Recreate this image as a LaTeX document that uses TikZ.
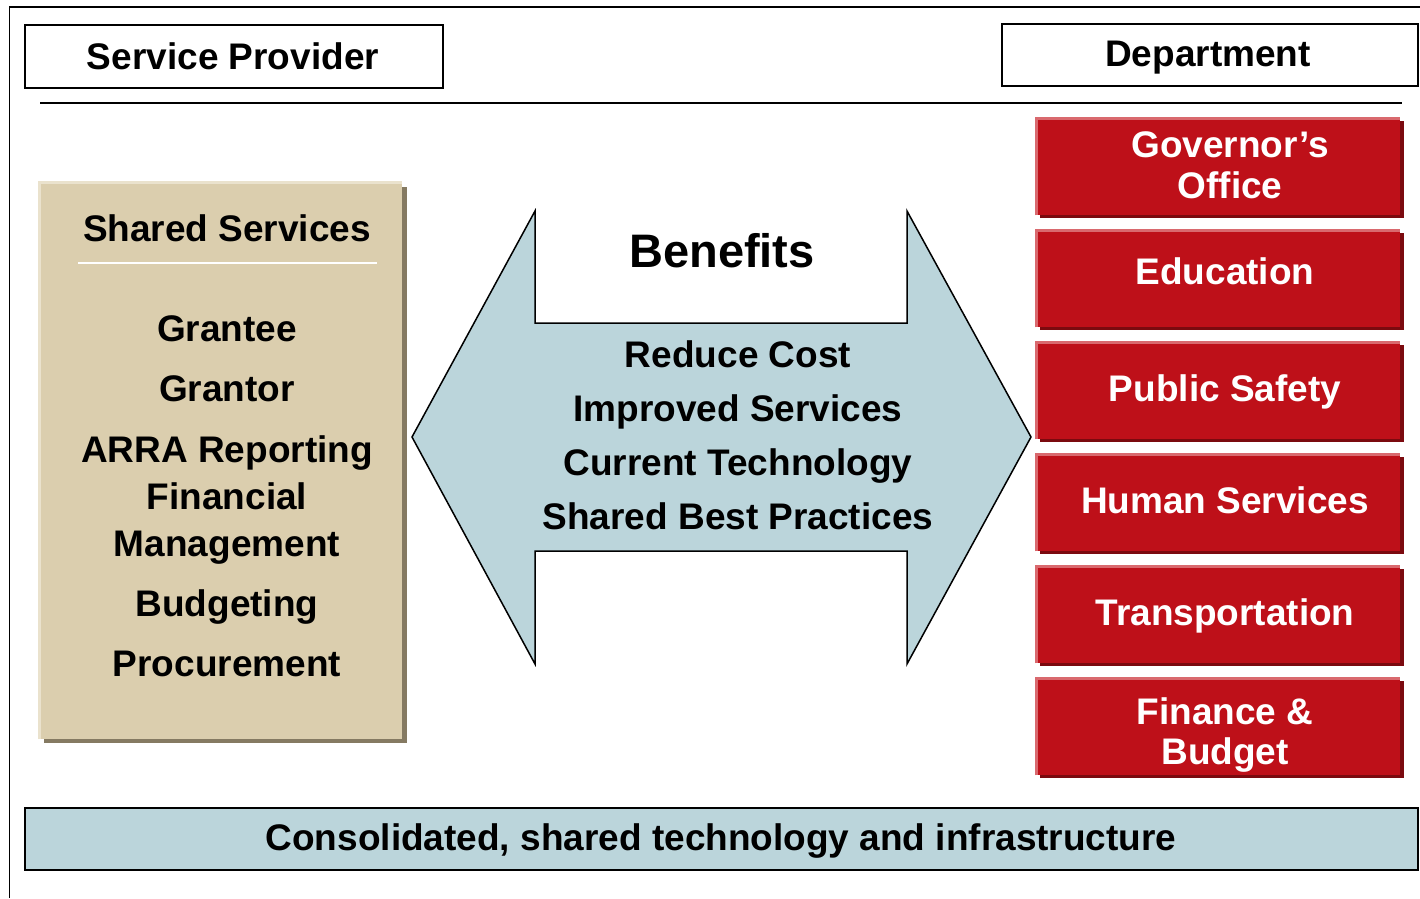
\documentclass[tikz,border=0pt]{standalone}
\usepackage{fontspec}
\setmainfont{Liberation Sans}
\definecolor{redface}{HTML}{BE1019}
\definecolor{redshadow}{HTML}{7B0A0F}
\definecolor{redhi}{HTML}{D9696E}
\definecolor{khaki}{HTML}{DBCEAE}
\definecolor{khakishadow}{HTML}{857A62}
\definecolor{khakihi}{HTML}{EAE2CD}
\definecolor{paleblue}{HTML}{BBD5DB}
\tikzset{
  hdr/.style={draw=black, line width=2pt, fill=white, anchor=north west, inner sep=0pt},
  lbl/.style={font=\fontsize{37}{44}\selectfont\bfseries, anchor=base, inner sep=0pt},
  wlbl/.style={lbl, text=white},
  bigl/.style={font=\fontsize{47}{54}\selectfont\bfseries, anchor=base, inner sep=0pt},
  redbox/.style={fill=redface, minimum width=365pt, minimum height=98pt, anchor=north west, inner sep=0pt},
}
\begin{document}
\begin{tikzpicture}[x=1pt,y=-1pt]
\useasboundingbox (0,0) rectangle (1420,898);
% outer frame
\draw[line width=1.5pt] (9.5,898) -- (9.5,7) -- (1420,7);
% headers
\node[hdr, minimum width=418pt, minimum height=63pt] (sp) at (24,24) {};
\node[lbl] (sptext) at (233,69) {Service Provider};
\node[hdr, minimum width=416pt, minimum height=62pt] (dep) at (1001,23) {};
\node[lbl] (deptext) at (1208,66) {Department};
\draw[line width=1.5pt] (40,103) -- (1402,103);
% shared services box
\fill[khakishadow] (44,187) rectangle (406.5,742.5);
\node[fill=khaki, minimum width=364pt, minimum height=558pt, anchor=north west, inner sep=0pt] (ss) at (38,181) {};
\draw[khakihi, line width=2.5pt] ([xshift=1.25pt]ss.south west) -- ([xshift=1.25pt,yshift=-1.25pt]ss.north west) -- ([yshift=-1.25pt]ss.north east);
\draw[white, line width=1.5pt] (78,263) -- (377,263);
\node[lbl] (sst) at (227,241) {Shared Services};
\node[lbl] (s1) at (227,341) {Grantee};
\node[lbl] (s2) at (227,401) {Grantor};
\node[lbl] (s3) at (227,462) {ARRA Reporting};
\node[lbl] (s4) at (227,509) {Financial};
\node[lbl] (s5) at (227,556) {Management};
\node[lbl] (s6) at (227,616) {Budgeting};
\node[lbl] (s7) at (227,676) {Procurement};
% double arrow
\draw[fill=paleblue, line width=1.5pt, line join=miter]
  (412,437) -- (535,211) -- (535,323) -- (907,323) -- (907,211) -- (1031,437)
  -- (907,664) -- (907,551) -- (535,551) -- (535,664) -- cycle;
\node[bigl] (ben) at (722,267) {Benefits};
\node[lbl] (b1) at (738,367) {Reduce Cost};
\node[lbl] (b2) at (738,421) {Improved Services};
\node[lbl] (b3) at (738,475) {Current Technology};
\node[lbl] (b4) at (738,529) {Shared Best Practices};
% department boxes
\foreach \t/\n in {117/gov,229/edu,341/pub,453/hum,565/tra,677/fin}{
  \fill[redshadow] (1040,\t+4) rectangle (1404,\t+101);
  \node[redbox] (\n) at (1035,\t) {};
  \draw[redhi, line width=2.5pt] ([xshift=1.25pt]\n.south west) -- ([xshift=1.25pt,yshift=-1.25pt]\n.north west) -- ([yshift=-1.25pt]\n.north east);
}
\node[wlbl] (govt1) at (1230,157) {Governor’s};
\node[wlbl] (govt2) at (1230,198) {Office};
\node[wlbl] (edut) at (1225,284) {Education};
\node[wlbl] (pubt) at (1225,401) {Public Safety};
\node[wlbl] (humt) at (1225,513) {Human Services};
\node[wlbl] (trat) at (1225,625) {Transportation};
\node[wlbl] (fint1) at (1225,724) {Finance \&};
\node[wlbl] (fint2) at (1225,764) {Budget};
% bottom bar
\node[draw=black, line width=2pt, fill=paleblue, minimum width=1393pt, minimum height=62pt, anchor=north west, inner sep=0pt] (bar) at (24,807) {};
\node[lbl] (bart) at (721,850) {Consolidated, shared technology and infrastructure};
\end{tikzpicture}
\end{document}
